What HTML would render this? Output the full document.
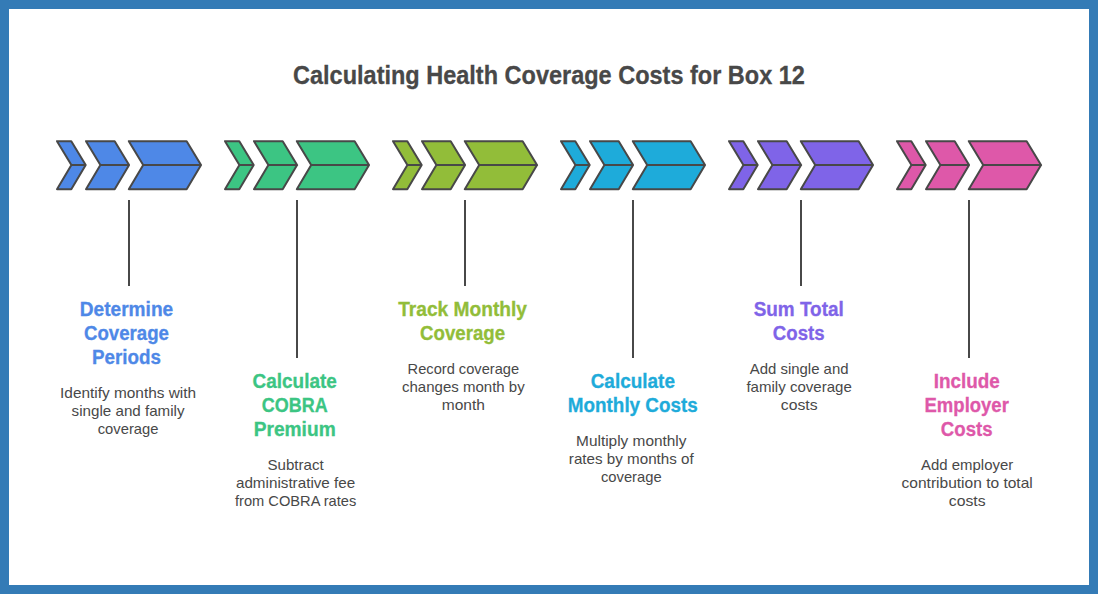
<!DOCTYPE html>
<html lang="en"><head><meta charset="utf-8"><title>Calculating Health Coverage Costs for Box 12</title>
<style>
html,body{margin:0;padding:0;background:#fff;}
body{width:1098px;height:594px;overflow:hidden;position:relative;}
.frame{position:absolute;left:0;top:0;width:1080px;height:576px;border:9px solid #347bb6;background:#fff;}
svg{position:absolute;left:0;top:0;display:block;}
svg text{font-family:"Liberation Sans",sans-serif;white-space:pre;}
</style></head><body>
<div class="frame"></div>
<svg width="1098" height="594" viewBox="0 0 1098 594">
<text x="293.06" y="83.50" font-weight="bold" font-size="25" fill="#484848" textLength="511.88" lengthAdjust="spacingAndGlyphs" stroke="#484848" stroke-width="0.3">Calculating Health Coverage Costs for Box 12</text>
<g>
<path d="M57,141.2 L71.3,141.2 L85.7,165.05 L71.4,165.05 Z M57,189.15 L71.3,189.15 L85.7,165.05 L71.4,165.05 Z" fill="#4e88e7" stroke="#484848" stroke-width="2" stroke-linejoin="round"/>
<path d="M86,141.2 L114.7,141.2 L129.1,165.05 L100.4,165.05 Z M86,189.15 L114.7,189.15 L129.1,165.05 L100.4,165.05 Z" fill="#4e88e7" stroke="#484848" stroke-width="2" stroke-linejoin="round"/>
<path d="M128.8,141.2 L186.65,141.2 L201.05,165.05 L143.2,165.05 Z M128.8,189.15 L186.65,189.15 L201.05,165.05 L143.2,165.05 Z" fill="#4e88e7" stroke="#484848" stroke-width="2" stroke-linejoin="round"/>
<line x1="129" y1="200" x2="129" y2="286" stroke="#484848" stroke-width="2"/>
<text x="79.84" y="316.00" font-weight="bold" font-size="20" fill="#4e88e7" textLength="93.33" lengthAdjust="spacingAndGlyphs" stroke="#4e88e7" stroke-width="0.3">Determine</text>
<text x="84.02" y="340.00" font-weight="bold" font-size="20" fill="#4e88e7" textLength="84.97" lengthAdjust="spacingAndGlyphs" stroke="#4e88e7" stroke-width="0.3">Coverage</text>
<text x="91.99" y="364.00" font-weight="bold" font-size="20" fill="#4e88e7" textLength="69.02" lengthAdjust="spacingAndGlyphs" stroke="#4e88e7" stroke-width="0.3">Periods</text>
<text x="60.06" y="397.80" font-weight="normal" font-size="15" fill="#484848" textLength="136.08" lengthAdjust="spacingAndGlyphs">Identify months with</text>
<text x="71.62" y="415.80" font-weight="normal" font-size="15" fill="#484848" textLength="112.97" lengthAdjust="spacingAndGlyphs">single and family</text>
<text x="97.72" y="433.80" font-weight="normal" font-size="15" fill="#484848" textLength="60.75" lengthAdjust="spacingAndGlyphs">coverage</text>
</g>
<g>
<path d="M225,141.2 L239.3,141.2 L253.7,165.05 L239.4,165.05 Z M225,189.15 L239.3,189.15 L253.7,165.05 L239.4,165.05 Z" fill="#3cc583" stroke="#484848" stroke-width="2" stroke-linejoin="round"/>
<path d="M254,141.2 L282.7,141.2 L297.1,165.05 L268.4,165.05 Z M254,189.15 L282.7,189.15 L297.1,165.05 L268.4,165.05 Z" fill="#3cc583" stroke="#484848" stroke-width="2" stroke-linejoin="round"/>
<path d="M296.8,141.2 L354.65,141.2 L369.05,165.05 L311.2,165.05 Z M296.8,189.15 L354.65,189.15 L369.05,165.05 L311.2,165.05 Z" fill="#3cc583" stroke="#484848" stroke-width="2" stroke-linejoin="round"/>
<line x1="297" y1="200" x2="297" y2="358" stroke="#484848" stroke-width="2"/>
<text x="252.56" y="388.00" font-weight="bold" font-size="20" fill="#3cc583" textLength="84.28" lengthAdjust="spacingAndGlyphs" stroke="#3cc583" stroke-width="0.3">Calculate</text>
<text x="261.75" y="412.00" font-weight="bold" font-size="20" fill="#3cc583" textLength="65.89" lengthAdjust="spacingAndGlyphs" stroke="#3cc583" stroke-width="0.3">COBRA</text>
<text x="253.71" y="436.00" font-weight="bold" font-size="20" fill="#3cc583" textLength="81.98" lengthAdjust="spacingAndGlyphs" stroke="#3cc583" stroke-width="0.3">Premium</text>
<text x="267.49" y="469.80" font-weight="normal" font-size="15" fill="#484848" textLength="56.22" lengthAdjust="spacingAndGlyphs">Subtract</text>
<text x="235.95" y="487.80" font-weight="normal" font-size="15" fill="#484848" textLength="119.30" lengthAdjust="spacingAndGlyphs">administrative fee</text>
<text x="234.94" y="505.80" font-weight="normal" font-size="15" fill="#484848" textLength="121.31" lengthAdjust="spacingAndGlyphs">from COBRA rates</text>
</g>
<g>
<path d="M393,141.2 L407.3,141.2 L421.7,165.05 L407.4,165.05 Z M393,189.15 L407.3,189.15 L421.7,165.05 L407.4,165.05 Z" fill="#92bd39" stroke="#484848" stroke-width="2" stroke-linejoin="round"/>
<path d="M422,141.2 L450.7,141.2 L465.1,165.05 L436.4,165.05 Z M422,189.15 L450.7,189.15 L465.1,165.05 L436.4,165.05 Z" fill="#92bd39" stroke="#484848" stroke-width="2" stroke-linejoin="round"/>
<path d="M464.8,141.2 L522.65,141.2 L537.05,165.05 L479.2,165.05 Z M464.8,189.15 L522.65,189.15 L537.05,165.05 L479.2,165.05 Z" fill="#92bd39" stroke="#484848" stroke-width="2" stroke-linejoin="round"/>
<line x1="465" y1="200" x2="465" y2="286" stroke="#484848" stroke-width="2"/>
<text x="398.18" y="316.00" font-weight="bold" font-size="20" fill="#92bd39" textLength="128.84" lengthAdjust="spacingAndGlyphs" stroke="#92bd39" stroke-width="0.3">Track Monthly</text>
<text x="420.12" y="340.00" font-weight="bold" font-size="20" fill="#92bd39" textLength="84.97" lengthAdjust="spacingAndGlyphs" stroke="#92bd39" stroke-width="0.3">Coverage</text>
<text x="407.61" y="373.80" font-weight="normal" font-size="15" fill="#484848" textLength="111.48" lengthAdjust="spacingAndGlyphs">Record coverage</text>
<text x="401.99" y="391.80" font-weight="normal" font-size="15" fill="#484848" textLength="122.72" lengthAdjust="spacingAndGlyphs">changes month by</text>
<text x="441.76" y="409.80" font-weight="normal" font-size="15" fill="#484848" textLength="43.17" lengthAdjust="spacingAndGlyphs">month</text>
</g>
<g>
<path d="M561,141.2 L575.3,141.2 L589.7,165.05 L575.4,165.05 Z M561,189.15 L575.3,189.15 L589.7,165.05 L575.4,165.05 Z" fill="#1eabda" stroke="#484848" stroke-width="2" stroke-linejoin="round"/>
<path d="M590,141.2 L618.7,141.2 L633.1,165.05 L604.4,165.05 Z M590,189.15 L618.7,189.15 L633.1,165.05 L604.4,165.05 Z" fill="#1eabda" stroke="#484848" stroke-width="2" stroke-linejoin="round"/>
<path d="M632.8,141.2 L690.65,141.2 L705.05,165.05 L647.2,165.05 Z M632.8,189.15 L690.65,189.15 L705.05,165.05 L647.2,165.05 Z" fill="#1eabda" stroke="#484848" stroke-width="2" stroke-linejoin="round"/>
<line x1="633" y1="200" x2="633" y2="358" stroke="#484848" stroke-width="2"/>
<text x="590.66" y="388.00" font-weight="bold" font-size="20" fill="#1eabda" textLength="84.28" lengthAdjust="spacingAndGlyphs" stroke="#1eabda" stroke-width="0.3">Calculate</text>
<text x="567.80" y="412.00" font-weight="bold" font-size="20" fill="#1eabda" textLength="130.00" lengthAdjust="spacingAndGlyphs" stroke="#1eabda" stroke-width="0.3">Monthly Costs</text>
<text x="576.11" y="445.80" font-weight="normal" font-size="15" fill="#484848" textLength="110.38" lengthAdjust="spacingAndGlyphs">Multiply monthly</text>
<text x="568.89" y="463.80" font-weight="normal" font-size="15" fill="#484848" textLength="124.83" lengthAdjust="spacingAndGlyphs">rates by months of</text>
<text x="600.92" y="481.80" font-weight="normal" font-size="15" fill="#484848" textLength="60.75" lengthAdjust="spacingAndGlyphs">coverage</text>
</g>
<g>
<path d="M729,141.2 L743.3,141.2 L757.7,165.05 L743.4,165.05 Z M729,189.15 L743.3,189.15 L757.7,165.05 L743.4,165.05 Z" fill="#7f64e8" stroke="#484848" stroke-width="2" stroke-linejoin="round"/>
<path d="M758,141.2 L786.7,141.2 L801.1,165.05 L772.4,165.05 Z M758,189.15 L786.7,189.15 L801.1,165.05 L772.4,165.05 Z" fill="#7f64e8" stroke="#484848" stroke-width="2" stroke-linejoin="round"/>
<path d="M800.8,141.2 L858.65,141.2 L873.05,165.05 L815.2,165.05 Z M800.8,189.15 L858.65,189.15 L873.05,165.05 L815.2,165.05 Z" fill="#7f64e8" stroke="#484848" stroke-width="2" stroke-linejoin="round"/>
<line x1="801" y1="200" x2="801" y2="286" stroke="#484848" stroke-width="2"/>
<text x="753.68" y="316.00" font-weight="bold" font-size="20" fill="#7f64e8" textLength="90.05" lengthAdjust="spacingAndGlyphs" stroke="#7f64e8" stroke-width="0.3">Sum Total</text>
<text x="772.85" y="340.00" font-weight="bold" font-size="20" fill="#7f64e8" textLength="51.70" lengthAdjust="spacingAndGlyphs" stroke="#7f64e8" stroke-width="0.3">Costs</text>
<text x="749.77" y="373.80" font-weight="normal" font-size="15" fill="#484848" textLength="98.75" lengthAdjust="spacingAndGlyphs">Add single and</text>
<text x="746.45" y="391.80" font-weight="normal" font-size="15" fill="#484848" textLength="105.39" lengthAdjust="spacingAndGlyphs">family coverage</text>
<text x="780.75" y="409.80" font-weight="normal" font-size="15" fill="#484848" textLength="36.80" lengthAdjust="spacingAndGlyphs">costs</text>
</g>
<g>
<path d="M897,141.2 L911.3,141.2 L925.7,165.05 L911.4,165.05 Z M897,189.15 L911.3,189.15 L925.7,165.05 L911.4,165.05 Z" fill="#de58a9" stroke="#484848" stroke-width="2" stroke-linejoin="round"/>
<path d="M926,141.2 L954.7,141.2 L969.1,165.05 L940.4,165.05 Z M926,189.15 L954.7,189.15 L969.1,165.05 L940.4,165.05 Z" fill="#de58a9" stroke="#484848" stroke-width="2" stroke-linejoin="round"/>
<path d="M968.8,141.2 L1026.65,141.2 L1041.05,165.05 L983.2,165.05 Z M968.8,189.15 L1026.65,189.15 L1041.05,165.05 L983.2,165.05 Z" fill="#de58a9" stroke="#484848" stroke-width="2" stroke-linejoin="round"/>
<line x1="969" y1="200" x2="969" y2="358" stroke="#484848" stroke-width="2"/>
<text x="933.68" y="388.00" font-weight="bold" font-size="20" fill="#de58a9" textLength="66.05" lengthAdjust="spacingAndGlyphs" stroke="#de58a9" stroke-width="0.3">Include</text>
<text x="924.54" y="412.00" font-weight="bold" font-size="20" fill="#de58a9" textLength="84.33" lengthAdjust="spacingAndGlyphs" stroke="#de58a9" stroke-width="0.3">Employer</text>
<text x="940.85" y="436.00" font-weight="bold" font-size="20" fill="#de58a9" textLength="51.70" lengthAdjust="spacingAndGlyphs" stroke="#de58a9" stroke-width="0.3">Costs</text>
<text x="921.10" y="469.80" font-weight="normal" font-size="15" fill="#484848" textLength="92.09" lengthAdjust="spacingAndGlyphs">Add employer</text>
<text x="901.55" y="487.80" font-weight="normal" font-size="15" fill="#484848" textLength="131.20" lengthAdjust="spacingAndGlyphs">contribution to total</text>
<text x="948.75" y="505.80" font-weight="normal" font-size="15" fill="#484848" textLength="36.80" lengthAdjust="spacingAndGlyphs">costs</text>
</g>
</svg></body></html>
